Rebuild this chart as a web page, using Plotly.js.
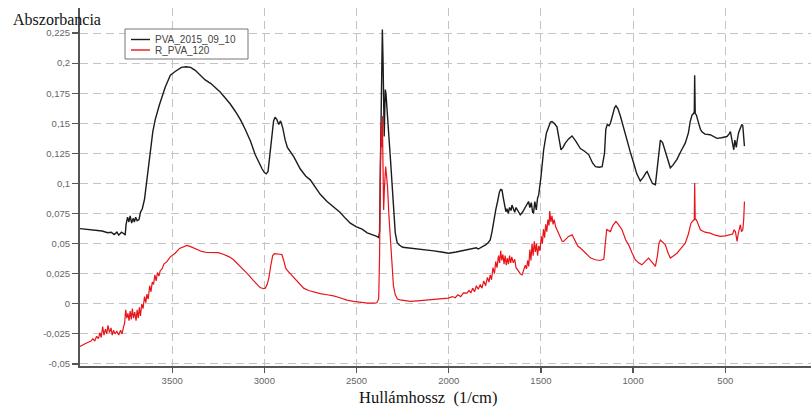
<!DOCTYPE html>
<html>
<head>
<meta charset="utf-8">
<script src="https://cdn.plot.ly/plotly-3.0.1.min.js"></script>
<style>html,body{margin:0;padding:0;background:#fff;}#chart{width:811px;height:410px;}</style>
</head>
<body>
<div id="chart"></div>
<script>
// Series names
const seriesNames = ["PVA_2015_09_10", "R_PVA_120"];

// PVA_2015_09_10 (black) — wavenumber (1/cm) and absorbance
const pvaWave = [4000,3960,3920,3880,3850,3830,3815,3800,3790,3775,3760,3755,3750,3742,3735,3728,3720,3712,3705,3698,3690,3680,3672,3662,3650,3640,3630,3619,3605,3592,3570,3538,3510,3484,3450,3424,3400,3375,3350,3321,3290,3267,3240,3212,3185,3158,3130,3104,3075,3050,3030,3012,3000,2990,2980,2970,2960,2950,2942,2932,2922,2912,2900,2887,2875,2860,2840,2805,2775,2751,2720,2697,2660,2626,2590,2560,2534,2500,2470,2442,2420,2400,2390,2380,2375,2370,2365,2360,2356,2352,2350,2347,2344,2340,2336,2332,2325,2316,2308,2300,2290,2280,2270,2250,2220,2180,2150,2118,2080,2040,2000,1960,1930,1901,1870,1850,1840,1820,1800,1785,1775,1765,1755,1745,1735,1725,1718,1711,1704,1695,1690,1684,1677,1670,1662,1657,1650,1642,1635,1625,1612,1600,1590,1580,1567,1560,1552,1545,1540,1533,1525,1518,1512,1500,1485,1470,1458,1448,1440,1428,1413,1400,1391,1380,1368,1350,1331,1310,1286,1265,1241,1220,1204,1185,1168,1155,1148,1140,1130,1123,1110,1100,1093,1082,1069,1050,1033,1015,997,980,961,945,930,924,910,895,879,870,860,852,840,825,810,798,785,762,740,717,700,690,680,672,668,666,663,657,650,645,635,627,610,582,560,545,520,500,491,480,472,465,458,454,448,440,436,428,418,410,405,400,396];
const pvaAbs = [0.0625,0.062,0.061,0.0605,0.059,0.0595,0.0575,0.0595,0.057,0.0595,0.058,0.057,0.066,0.072,0.068,0.073,0.067,0.071,0.068,0.072,0.069,0.07,0.076,0.079,0.087,0.1,0.115,0.13,0.143,0.153,0.165,0.18,0.19,0.193,0.1965,0.197,0.1965,0.194,0.19,0.186,0.183,0.18,0.176,0.171,0.166,0.16,0.153,0.145,0.135,0.124,0.117,0.112,0.109,0.108,0.11,0.125,0.14,0.152,0.155,0.153,0.149,0.152,0.146,0.136,0.13,0.127,0.122,0.112,0.106,0.103,0.096,0.091,0.085,0.081,0.076,0.071,0.067,0.064,0.062,0.059,0.058,0.057,0.056,0.055,0.06,0.12,0.2,0.228,0.2,0.15,0.139,0.16,0.178,0.174,0.166,0.161,0.14,0.12,0.1,0.078,0.059,0.051,0.049,0.047,0.0465,0.046,0.045,0.045,0.044,0.043,0.042,0.043,0.044,0.045,0.046,0.0465,0.0455,0.047,0.049,0.051,0.053,0.06,0.07,0.078,0.085,0.093,0.095,0.0945,0.088,0.079,0.0765,0.079,0.075,0.08,0.0775,0.082,0.079,0.076,0.08,0.077,0.074,0.076,0.079,0.082,0.085,0.08,0.084,0.076,0.0755,0.085,0.078,0.088,0.0905,0.105,0.128,0.142,0.147,0.151,0.1515,0.15,0.147,0.136,0.128,0.13,0.1335,0.137,0.1395,0.135,0.129,0.127,0.124,0.117,0.114,0.1135,0.114,0.125,0.145,0.149,0.148,0.15,0.158,0.163,0.1645,0.162,0.156,0.145,0.136,0.126,0.117,0.108,0.102,0.105,0.109,0.11,0.105,0.1,0.099,0.112,0.13,0.136,0.134,0.127,0.118,0.113,0.115,0.12,0.127,0.1335,0.142,0.1515,0.157,0.158,0.16,0.19,0.158,0.157,0.153,0.15,0.145,0.143,0.141,0.1405,0.139,0.1375,0.138,0.1385,0.139,0.141,0.143,0.137,0.13,0.128,0.136,0.13,0.135,0.142,0.146,0.149,0.148,0.14,0.131];

// R_PVA_120 (red) — wavenumber (1/cm) and absorbance
const rpvaWave = [4000,3985,3970,3955,3940,3930,3920,3910,3900,3892,3885,3877,3870,3862,3855,3848,3840,3832,3825,3818,3810,3800,3790,3780,3772,3765,3758,3752,3746,3740,3734,3728,3722,3716,3710,3703,3696,3690,3684,3678,3672,3665,3658,3650,3643,3637,3630,3622,3615,3608,3601,3594,3587,3580,3572,3565,3555,3545,3529,3510,3484,3460,3439,3420,3400,3380,3366,3340,3312,3280,3250,3220,3190,3167,3130,3095,3060,3040,3023,3005,2995,2985,2975,2965,2955,2945,2930,2915,2905,2895,2885,2877,2860,2842,2820,2805,2787,2760,2730,2697,2660,2625,2590,2552,2516,2480,2440,2400,2390,2380,2375,2371,2366,2362,2360,2357,2353,2349,2345,2342,2337,2332,2325,2316,2308,2300,2290,2278,2263,2240,2209,2170,2130,2090,2050,2002,1980,1965,1950,1935,1920,1901,1890,1880,1870,1860,1850,1840,1829,1820,1810,1800,1790,1782,1775,1768,1760,1752,1745,1738,1730,1724,1718,1712,1706,1700,1694,1688,1682,1676,1670,1664,1658,1650,1642,1635,1625,1612,1602,1592,1585,1578,1572,1566,1560,1554,1548,1542,1536,1530,1524,1518,1512,1505,1498,1492,1486,1480,1474,1468,1462,1456,1452,1446,1440,1434,1428,1420,1413,1404,1395,1385,1377,1365,1350,1331,1315,1300,1286,1270,1250,1230,1204,1180,1159,1150,1143,1135,1123,1110,1100,1093,1080,1060,1040,1024,1005,988,970,952,935,916,900,879,868,860,852,840,825,810,798,780,762,740,717,700,686,675,668,666,663,657,645,635,610,582,555,527,500,472,460,452,445,436,430,418,412,405,400,396];
const rpvaAbs = [-0.0355,-0.034,-0.033,-0.032,-0.031,-0.029,-0.031,-0.027,-0.029,-0.024,-0.028,-0.019,-0.026,-0.021,-0.025,-0.018,-0.024,-0.02,-0.026,-0.022,-0.025,-0.023,-0.026,-0.022,-0.025,-0.02,-0.016,-0.005,-0.012,-0.008,-0.014,-0.006,-0.013,-0.004,-0.012,-0.007,-0.014,-0.005,-0.012,-0.003,-0.01,0.0,-0.004,0.006,0.001,0.008,0.004,0.015,0.01,0.018,0.016,0.024,0.019,0.026,0.023,0.0275,0.029,0.033,0.035,0.039,0.042,0.046,0.0476,0.0485,0.0475,0.046,0.045,0.0435,0.0426,0.0425,0.0425,0.041,0.039,0.0366,0.031,0.0255,0.0195,0.016,0.0135,0.0125,0.013,0.016,0.022,0.032,0.04,0.0416,0.0415,0.0415,0.041,0.036,0.03,0.028,0.025,0.022,0.018,0.0155,0.013,0.011,0.0095,0.0085,0.0075,0.0066,0.005,0.003,0.002,0.0012,0.0006,0.0005,0.0008,0.004,0.04,0.114,0.15,0.13,0.156,0.12,0.078,0.095,0.11,0.114,0.106,0.0975,0.075,0.05,0.031,0.015,0.0075,0.004,0.0033,0.0025,0.002,0.0025,0.003,0.0035,0.004,0.0047,0.006,0.005,0.0075,0.006,0.009,0.0089,0.011,0.009,0.013,0.01,0.015,0.012,0.016,0.013,0.019,0.015,0.022,0.018,0.024,0.02,0.03,0.025,0.035,0.03,0.04,0.034,0.044,0.036,0.041,0.033,0.04,0.032,0.038,0.033,0.04,0.034,0.039,0.034,0.037,0.03,0.028,0.025,0.024,0.028,0.032,0.029,0.036,0.031,0.045,0.036,0.05,0.04,0.052,0.043,0.05,0.04,0.048,0.044,0.056,0.05,0.062,0.055,0.066,0.06,0.07,0.065,0.077,0.068,0.073,0.066,0.07,0.064,0.0615,0.059,0.055,0.052,0.0518,0.054,0.056,0.0573,0.052,0.048,0.0463,0.044,0.0407,0.038,0.0366,0.036,0.037,0.05,0.062,0.061,0.06,0.065,0.0675,0.0684,0.066,0.0615,0.053,0.049,0.042,0.0366,0.034,0.0324,0.035,0.038,0.035,0.031,0.04,0.05,0.053,0.051,0.049,0.042,0.038,0.04,0.042,0.046,0.0504,0.058,0.067,0.069,0.07,0.1003,0.07,0.07,0.065,0.0615,0.0595,0.0587,0.057,0.056,0.0565,0.0573,0.058,0.0615,0.06,0.0518,0.058,0.0657,0.06,0.0615,0.07,0.085];

// Axis ticks
const xTickVals = [3500, 3000, 2500, 2000, 1500, 1000, 500];
const xTickText = ["3500", "3000", "2500", "2000", "1500", "1000", "500"];
const yTickVals = [-0.05, -0.025, 0, 0.025, 0.05, 0.075, 0.1, 0.125, 0.15, 0.175, 0.2, 0.225];
const yTickText = ["-0,05", "-0,025", "0", "0,025", "0,05", "0,075", "0,1", "0,125", "0,15", "0,175", "0,2", "0,225"];

const colors = ["#1c1c1c", "#e8141a"];

const traces = [
  {x: pvaWave, y: pvaAbs, name: seriesNames[0], type: "scatter", mode: "lines",
   line: {color: colors[0], width: 1.4}, showlegend: false},
  {x: rpvaWave, y: rpvaAbs, name: seriesNames[1], type: "scatter", mode: "lines",
   line: {color: colors[1], width: 1.2}, showlegend: false}
];

// plot area geometry (for paper-coordinate legend)
const W = 811, H = 410, ml = 80, mr = 0, mt = 8, mb = 44;
const pw = W - ml - mr, ph = H - mt - mb;
const px = v => (v - ml) / pw;
const py = v => 1 - (v - mt) / ph;

const tickFont = {family: "Liberation Sans, Arial, sans-serif", size: 9.5, color: "#666"};

const layout = {
  width: W, height: H,
  margin: {l: ml, r: mr, t: mt, b: mb, pad: 0},
  paper_bgcolor: "#fff", plot_bgcolor: "#fff",
  showlegend: false,
  xaxis: {
    range: [4000, 35], tickmode: "array", tickvals: xTickVals, ticktext: xTickText,
    showline: true, linecolor: "#555", linewidth: 2, mirror: false,
    ticks: "outside", ticklen: 5, tickwidth: 1.2, tickcolor: "#555",
    showgrid: true, gridcolor: "#c4c4c4", gridwidth: 1, griddash: "8px,5px",
    zeroline: false, tickfont: tickFont, fixedrange: true
  },
  yaxis: {
    range: [-0.0517, 0.2458], tickmode: "array", tickvals: yTickVals, ticktext: yTickText,
    showline: true, linecolor: "#555", linewidth: 2,
    ticks: "outside", ticklen: 6, tickwidth: 1.2, tickcolor: "#555",
    showgrid: true, gridcolor: "#c4c4c4", gridwidth: 1, griddash: "8px,5px",
    zeroline: false, tickfont: tickFont, fixedrange: true
  },
  shapes: [
    {type: "rect", xref: "paper", yref: "paper", x0: px(125), x1: px(248), y0: py(59), y1: py(29),
     line: {color: "#777", width: 1}, fillcolor: "#fff", layer: "above"},
    {type: "line", xref: "paper", yref: "paper", x0: px(131), x1: px(150), y0: py(39.5), y1: py(39.5),
     line: {color: colors[0], width: 1.4}},
    {type: "line", xref: "paper", yref: "paper", x0: px(131), x1: px(150), y0: py(50), y1: py(50),
     line: {color: colors[1], width: 1.4}}
  ],
  annotations: [
    {text: seriesNames[0], xref: "paper", yref: "paper", x: px(153), y: py(39.5), xanchor: "left", yanchor: "middle",
     showarrow: false, font: {family: "Liberation Sans, Arial, sans-serif", size: 10, color: "#444"}},
    {text: seriesNames[1], xref: "paper", yref: "paper", x: px(153), y: py(50), xanchor: "left", yanchor: "middle",
     showarrow: false, font: {family: "Liberation Sans, Arial, sans-serif", size: 10, color: "#444"}},
    {text: "Abszorbancia", xref: "paper", yref: "paper", x: px(11), y: py(19), xanchor: "left", yanchor: "middle",
     showarrow: false, font: {family: "Liberation Serif, Times New Roman, serif", size: 16, color: "#111"}},
    {text: "Hullámhossz\u00a0 (1/cm)", xref: "paper", yref: "paper", x: px(428), y: py(398), xanchor: "center", yanchor: "middle",
     showarrow: false, font: {family: "Liberation Serif, Times New Roman, serif", size: 16.5, color: "#111"}}
  ]
};

Plotly.newPlot("chart", traces, layout, {displayModeBar: false, staticPlot: true});
</script>
</body>
</html>
